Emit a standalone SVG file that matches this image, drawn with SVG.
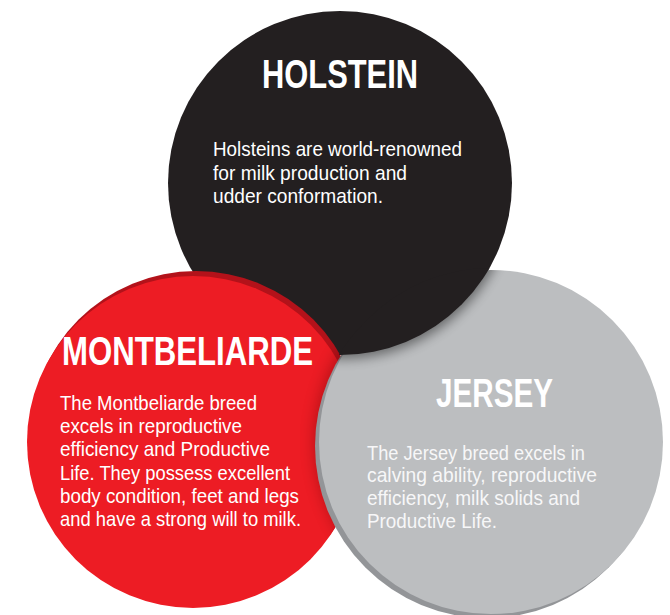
<svg xmlns="http://www.w3.org/2000/svg" xmlns:xlink="http://www.w3.org/1999/xlink" width="670" height="615" viewBox="0 0 670 615">
  <style>
    .title { font-family: 'Liberation Sans Narrow', 'Liberation Sans', Arial, sans-serif; font-weight: bold; font-size: 40px; fill: #FFFFFF; }
    .body { font-family: 'Liberation Sans Narrow', 'Liberation Sans', Arial, sans-serif; font-size: 21px; fill: #FFFFFF; }
    .body-j { fill: #F7F7F8; }
  </style>
  <defs>
    <filter id="soft" x="-20%" y="-20%" width="140%" height="140%">
      <feGaussianBlur stdDeviation="6"/>
    </filter>
    <filter id="soft2" x="-20%" y="-20%" width="140%" height="140%">
      <feGaussianBlur stdDeviation="8"/>
    </filter>
    <circle id="black-disc" cx="340" cy="183" r="172"/>
    <clipPath id="clip-red">
      <circle cx="193" cy="442" r="166"/>
      <circle cx="196" cy="437" r="166"/>
    </clipPath>
    <clipPath id="clip-gray">
      <circle cx="491" cy="442" r="172"/>
      <circle cx="487" cy="446" r="172"/>
    </clipPath>
    <clipPath id="clip-gray-wide">
      <circle cx="491" cy="442" r="174"/>
      <circle cx="487" cy="446" r="174"/>
    </clipPath>
  </defs>

  <g id="holstein">
    <use xlink:href="#black-disc" fill="#231F20"/>
    <text class="title" x="262" y="88" textLength="156" lengthAdjust="spacingAndGlyphs">HOLSTEIN</text>
    <text class="body" x="213" y="156" textLength="249" lengthAdjust="spacingAndGlyphs">Holsteins are world-renowned</text>
    <text class="body" x="213" y="180" textLength="194" lengthAdjust="spacingAndGlyphs">for milk production and</text>
    <text class="body" x="213" y="203" textLength="170" lengthAdjust="spacingAndGlyphs">udder conformation.</text>
  </g>

  <g id="montbeliarde">
    <circle cx="196" cy="437" r="166" fill="#B3121A"/>
    <circle cx="193" cy="442" r="166" fill="#ED1C24"/>
    <g clip-path="url(#clip-red)">
      <circle cx="488" cy="442" r="172" fill="#5A0A0E" opacity="0.45" filter="url(#soft2)"/>
    </g>
    <text class="title" x="62" y="365" textLength="251" lengthAdjust="spacingAndGlyphs">MONTBELIARDE</text>
    <text class="body" x="60" y="410" textLength="197" lengthAdjust="spacingAndGlyphs">The Montbeliarde breed</text>
    <text class="body" x="60" y="433" textLength="182" lengthAdjust="spacingAndGlyphs">excels in reproductive</text>
    <text class="body" x="60" y="456" textLength="210" lengthAdjust="spacingAndGlyphs">efficiency and Productive</text>
    <text class="body" x="60" y="480" textLength="230" lengthAdjust="spacingAndGlyphs">Life. They possess excellent</text>
    <text class="body" x="60" y="503" textLength="239" lengthAdjust="spacingAndGlyphs">body condition, feet and legs</text>
    <text class="body" x="60" y="526" textLength="241" lengthAdjust="spacingAndGlyphs">and have a strong will to milk.</text>
  </g>

  <g id="jersey">
    <circle cx="487" cy="446" r="172" fill="#939598"/>
    <circle cx="491" cy="442" r="172" fill="#BCBEC0"/>
    <g clip-path="url(#clip-gray)">
      <circle cx="342" cy="187" r="172" fill="#000000" opacity="0.45" filter="url(#soft)"/>
    </g>
    <text class="title" x="436" y="407" textLength="117" lengthAdjust="spacingAndGlyphs">JERSEY</text>
    <text class="body body-j" x="367" y="460" textLength="218" lengthAdjust="spacingAndGlyphs">The Jersey breed excels in</text>
    <text class="body body-j" x="367" y="482" textLength="230" lengthAdjust="spacingAndGlyphs">calving ability, reproductive</text>
    <text class="body body-j" x="367" y="505" textLength="213" lengthAdjust="spacingAndGlyphs">efficiency, milk solids and</text>
    <text class="body body-j" x="367" y="528" textLength="130" lengthAdjust="spacingAndGlyphs">Productive Life.</text>
  </g>

  <g id="holstein-over-jersey" clip-path="url(#clip-gray-wide)">
    <use xlink:href="#black-disc" fill="#231F20"/>
  </g>
</svg>
